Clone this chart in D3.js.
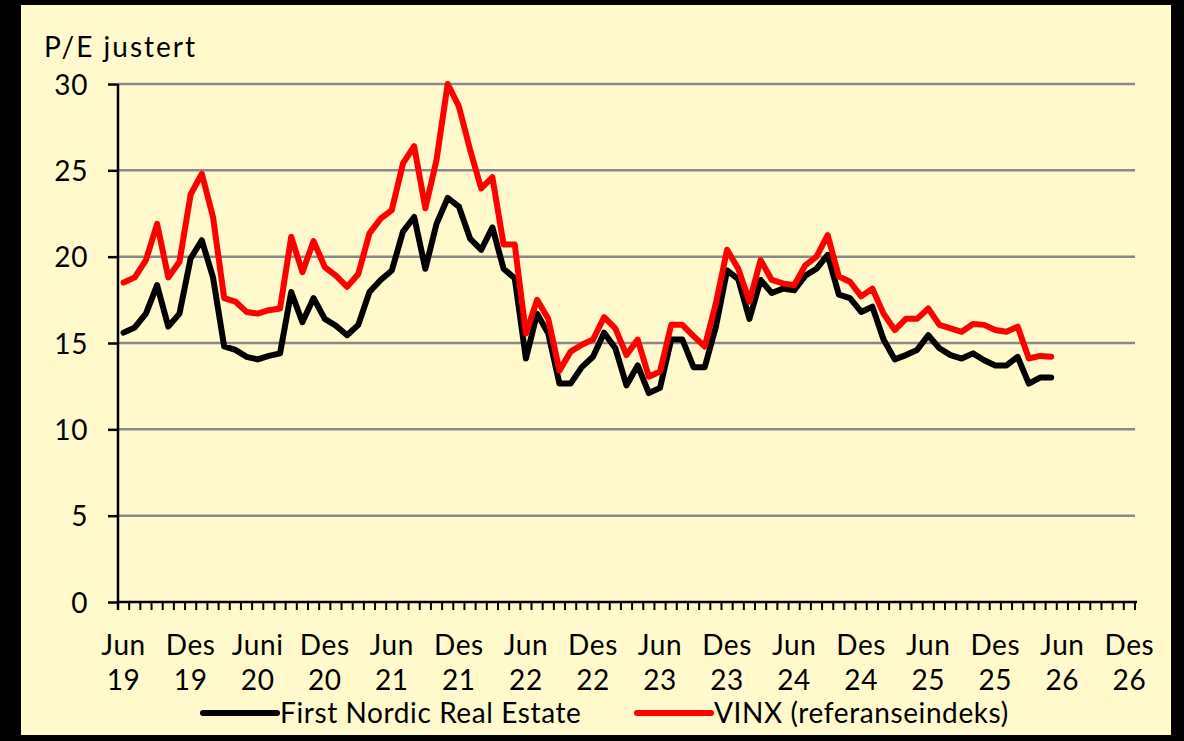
<!DOCTYPE html>
<html>
<head>
<meta charset="utf-8">
<script src="https://cdn.jsdelivr.net/npm/d3@7"></script>
<style>
    html, body { margin: 0; padding: 0; background: #000; }
    svg { display: block; }
    text { font-family: Lato, 'Noto Sans', sans-serif; fill: #000; letter-spacing: 0.6px; }
</style>
</head>
<body>
<div id="chart"></div>
<script>
const width = 1184,
    height = 741;

// one value per month, Jun 2019 .. May 2026
const firstNordic = [
    15.6, 15.9, 16.7, 18.35, 15.95, 16.7, 19.9, 20.95, 18.8, 14.8, 14.6, 14.2,
    14.05, 14.25, 14.4, 17.95, 16.2, 17.6, 16.4, 16.0, 15.45, 16.05, 17.95, 18.65,
    19.2, 21.45, 22.3, 19.3, 21.9, 23.4, 22.9, 21.05, 20.4, 21.7, 19.3, 18.75,
    14.1, 16.7, 15.55, 12.65, 12.65, 13.6, 14.2, 15.6, 14.7, 12.55, 13.7, 12.1,
    12.4, 15.2, 15.2, 13.6, 13.6, 15.95, 19.2, 18.7, 16.4, 18.65, 17.9, 18.15,
    18.05, 18.9, 19.3, 20.1, 17.8, 17.6, 16.8, 17.1, 15.2, 14.05, 14.3, 14.6,
    15.45, 14.7, 14.3, 14.1, 14.4, 14.0, 13.7, 13.7, 14.2, 12.65, 13.0, 13.0
];
const vinx = [
    18.5, 18.8, 19.8, 21.9, 18.8, 19.7, 23.6, 24.8, 22.3, 17.6, 17.4, 16.8,
    16.7, 16.9, 17.0, 21.15, 19.1, 20.9, 19.4, 18.9, 18.25, 19.0, 21.35, 22.2,
    22.7, 25.4, 26.4, 22.8, 25.6, 30.0, 28.7, 26.2, 23.95, 24.6, 20.7, 20.7,
    15.55, 17.5, 16.4, 13.4, 14.5, 14.9, 15.2, 16.5, 15.85, 14.3, 15.2, 13.05,
    13.35, 16.05, 16.05, 15.4, 14.8, 17.3, 20.4, 19.3, 17.4, 19.8, 18.65, 18.45,
    18.35, 19.5, 20.0, 21.25, 18.85, 18.55, 17.7, 18.15, 16.7, 15.75, 16.4, 16.4,
    17.0, 16.05, 15.85, 15.65, 16.1, 16.05, 15.75, 15.65, 15.95, 14.1, 14.25, 14.2
];
const monthLabels = ['Jun', 'Des', 'Juni', 'Des', 'Jun', 'Des', 'Jun', 'Des', 'Jun', 'Des', 'Jun', 'Des', 'Jun', 'Des', 'Jun', 'Des'];
const yearLabels = ['19', '19', '20', '20', '21', '21', '22', '22', '23', '23', '24', '24', '25', '25', '26', '26'];
const yTicks = [0, 5, 10, 15, 20, 25, 30];
const seriesNames = ['First Nordic Real Estate', 'VINX (referanseindeks)'];

// axis runs Jun 2019 .. Dec 2026
const months = d3.timeMonth.range(new Date(2019, 5, 1), new Date(2027, 0, 1));

const plot = { left: 118, right: 1135, top: 84, bottom: 602 };
const fontSize = '28px';

const svg = d3
    .select('#chart')
    .append('svg')
    .attr('width', width)
    .attr('height', height);

svg.append('rect')
    .attr('x', 21)
    .attr('y', 5)
    .attr('width', 1150)
    .attr('height', 730)
    .attr('fill', '#fff9cc');

const x = d3
    .scaleBand()
    .domain(months.map((d, i) => i))
    .range([plot.left, plot.right])
    .paddingInner(0)
    .paddingOuter(0);

const cx = (i) => x(i) + x.bandwidth() / 2;

const y = d3.scaleLinear().domain([0, 30]).range([plot.bottom, plot.top]);

// gridlines
svg.append('g')
    .selectAll('line')
    .data(yTicks.filter((d) => d > 0))
    .enter()
    .append('line')
    .attr('x1', plot.left)
    .attr('x2', plot.right)
    .attr('y1', (d) => y(d))
    .attr('y2', (d) => y(d))
    .attr('stroke', '#898989')
    .attr('stroke-width', 2.5);

// y axis
const yAxis = svg
    .append('g')
    .attr('transform', `translate(${plot.left},0)`)
    .call(d3.axisLeft(y).tickValues(yTicks).tickSize(10).tickPadding(20));
yAxis.select('.domain').attr('d', `M0,${plot.top}V${plot.bottom + 8}`).attr('stroke', '#000').attr('stroke-width', 2.5);
yAxis.selectAll('.tick line').attr('stroke', '#000').attr('stroke-width', 2.5);
yAxis.selectAll('.tick text').style('font-size', fontSize).attr('dy', '0.36em');

// x axis with a tick at every month boundary
const xAxis = svg.append('g');
xAxis.append('line')
    .attr('x1', plot.left)
    .attr('x2', plot.right + 2)
    .attr('y1', plot.bottom)
    .attr('y2', plot.bottom)
    .attr('stroke', '#000')
    .attr('stroke-width', 2.5);
xAxis.selectAll('line.tick')
    .data(months.map((d, i) => i).concat([months.length]))
    .enter()
    .append('line')
    .attr('class', 'tick')
    .attr('x1', (i) => (i < months.length ? x(i) : plot.right))
    .attr('x2', (i) => (i < months.length ? x(i) : plot.right))
    .attr('y1', plot.bottom)
    .attr('y2', plot.bottom + 8)
    .attr('stroke', '#000')
    .attr('stroke-width', 2);

const labelIdx = monthLabels.map((d, k) => k * 6);
xAxis.selectAll('text.month')
    .data(labelIdx)
    .enter()
    .append('text')
    .attr('class', 'month')
    .attr('x', (i) => cx(i))
    .attr('y', 655)
    .attr('text-anchor', 'middle')
    .style('font-size', fontSize)
    .text((i, k) => monthLabels[k]);
xAxis.selectAll('text.year')
    .data(labelIdx)
    .enter()
    .append('text')
    .attr('class', 'year')
    .attr('x', (i) => cx(i))
    .attr('y', 690)
    .attr('text-anchor', 'middle')
    .style('font-size', fontSize)
    .text((i, k) => yearLabels[k]);

svg.append('text')
    .attr('x', 44)
    .attr('y', 57)
    .style('font-size', fontSize)
    .style('letter-spacing', '2px')
    .text('P/E justert');

// series
const line = d3
    .line()
    .x((d, i) => cx(i))
    .y((d) => y(d));

const series = [
    { name: seriesNames[0], values: firstNordic, color: '#000' },
    { name: seriesNames[1], values: vinx, color: '#ff0000' },
];

svg.append('g')
    .selectAll('path')
    .data(series)
    .enter()
    .append('path')
    .attr('d', (d) => line(d.values))
    .attr('fill', 'none')
    .attr('stroke', (d) => d.color)
    .attr('stroke-width', 6)
    .attr('stroke-linejoin', 'round')
    .attr('stroke-linecap', 'round');

// legend
const legendX = [203, 637];
const legend = svg
    .append('g')
    .selectAll('g')
    .data(series)
    .enter()
    .append('g')
    .attr('transform', (d, i) => `translate(${legendX[i]},713)`);
legend.append('line')
    .attr('x1', 0)
    .attr('x2', 74)
    .attr('stroke', (d) => d.color)
    .attr('stroke-width', 6)
    .attr('stroke-linecap', 'round');
legend.append('text')
    .attr('x', 77)
    .attr('y', 10)
    .style('font-size', fontSize)
    .text((d) => d.name);
</script>
</body>
</html>
